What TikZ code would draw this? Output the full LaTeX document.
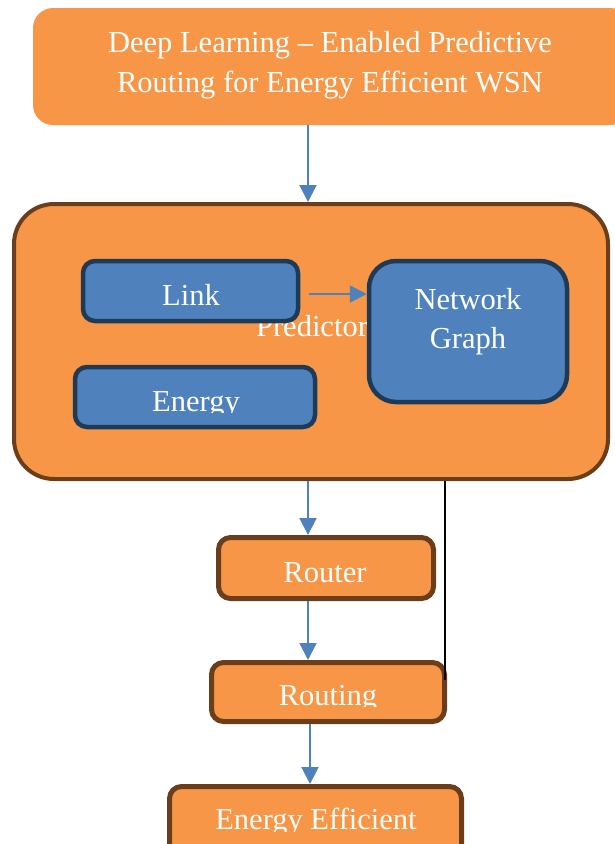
\documentclass[tikz,border=0pt]{standalone}
\usepackage{fontspec}
\setmainfont{Liberation Serif}
\usetikzlibrary{arrows.meta}
\definecolor{orng}{HTML}{F79646}
\definecolor{brwn}{HTML}{6B3E1B}
\definecolor{blu}{HTML}{4F81BD}
\definecolor{navy}{HTML}{1F3A57}
\tikzset{
  obox/.style={fill=orng, draw=brwn, line width=5pt, rounded corners=12pt, inner sep=0pt, minimum width=#1},
  bbox/.style={fill=blu, draw=navy, line width=4.5pt, rounded corners=12pt, inner sep=0pt, minimum width=#1},
  lbl/.style={text=white, font=\fontsize{30.5}{38}\selectfont, anchor=base, inner sep=0pt},
  arr/.style={draw=blu, line width=2pt, -{Triangle[length=17pt,width=17pt]}},
  blackline/.style={draw=black, line width=2pt}
}
\begin{document}
\begin{tikzpicture}[x=1pt,y=-1pt]
\useasboundingbox (0,0) rectangle (615,844);
% title box
\node[fill=orng, draw=none, rounded corners=20pt, inner sep=0pt, minimum width=597pt, minimum height=117pt] (top) at (331.5,66.5) {};
\node[lbl] (t1) at (330,52) {Deep Learning – Enabled Predictive};
\node[lbl] (t2) at (330,92) {Routing for Energy Efficient WSN};
% big container
\node[obox=594pt, line width=4pt, rounded corners=40pt, minimum height=275pt] (big) at (311,341.5) {};
\node[lbl] (pred) at (312,336) {Predictor};
% inner blue boxes
\node[bbox=215pt, minimum height=60pt] (link) at (190.5,291) {};
\node[bbox=240pt, minimum height=60pt] (energy) at (195,397) {};
\node[bbox=198pt, minimum height=141pt, rounded corners=27pt] (network) at (468,331.5) {};
\node[lbl] (linkt) at (191,305) {Link};
\begin{scope}
  \clip (73,365) rectangle (317,412);
  \node[lbl] (energyt) at (196,411) {Energy};
\end{scope}
\node[lbl] (nett) at (468,309) {Network};
\node[lbl] (grapht) at (468,348) {Graph};
% lower boxes
\node[obox=215pt, minimum height=61pt] (router) at (326,568) {};
\node[lbl] (routert) at (325,582) {Router};
\node[obox=233pt, minimum height=59pt] (routing) at (328,692) {};
\begin{scope}
  \clip (209,660) rectangle (447,706);
  \node[lbl] (routingt) at (328,705) {Routing};
\end{scope}
\node[obox=292pt, minimum height=93pt] (effic) at (315.5,833) {};
\begin{scope}
  \clip (167,784) rectangle (464,831);
  \node[lbl] (effict) at (316,829) {Energy Efficient};
\end{scope}
% connectors
\coordinate (c1) at (308,0);
\coordinate (c2) at (309,294);
\coordinate (c3) at (310,0);
\coordinate (c5) at (445,680);
\draw[arr] (top.south -| c1) -- (big.north -| c1);
\draw[arr] (c2) -- (c2 -| network.west);
\draw[arr] (big.south -| c1) -- (router.north -| c1);
\draw[arr] (router.south -| c1) -- (routing.north -| c1);
\draw[arr] (routing.south -| c3) -- (effic.north -| c3);
\draw[blackline] (big.south -| c5) -- (c5);
\end{tikzpicture}
\end{document}
